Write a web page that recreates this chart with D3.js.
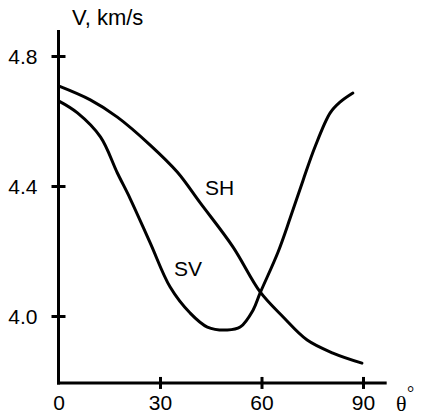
<!DOCTYPE html>
<html>
<head>
<meta charset="utf-8">
<script src="https://cdn.jsdelivr.net/npm/d3@7"></script>
<style>
html,body{margin:0;padding:0;background:#fff;}
svg{display:block;}
text{font-family:"Liberation Sans",Arial,sans-serif;fill:#000;}
</style>
</head>
<body>
<script>
const xTicks = [0, 30, 60, 90];
const yTicks = [4.0, 4.4, 4.8];
const yTickLabels = ["4.0", "4.4", "4.8"];

const thetaSH = [0, 9.4, 17.4, 27.1, 35.1, 41.9, 51.6, 59.6, 66.4, 73.5, 81.1, 89.7];
const vSH     = [4.708, 4.665, 4.612, 4.526, 4.443, 4.348, 4.212, 4.074, 3.997, 3.926, 3.886, 3.855];

const thetaSV = [0, 5.6, 12.4, 17.4, 21.1, 27.1, 33.0, 38.9, 44.0, 49.9, 53.7, 57.5, 59.6, 64.9, 68.5, 72.3, 75.8, 80.3, 83.2, 87.0];
const vSV     = [4.662, 4.625, 4.551, 4.440, 4.363, 4.225, 4.089, 4.009, 3.966, 3.957, 3.966, 4.018, 4.071, 4.197, 4.302, 4.418, 4.520, 4.625, 4.658, 4.686];

const W = 421, H = 416;
const svg = d3.select("body").append("svg").attr("width", W).attr("height", H);

const x = d3.scaleLinear().domain([0, 90]).range([58.5, 363]);
const y = d3.scaleLinear().domain([4.0, 4.8]).range([316, 56]);

const xMax = 97, yMin = 3.794, yMax = 4.88;
const ax = svg.append("g").attr("stroke", "#000").attr("stroke-width", 3).attr("fill", "none");
ax.append("line").attr("x1", x(0)).attr("x2", x(0)).attr("y1", y(yMax)).attr("y2", y(yMin) + 1.5);
ax.append("line").attr("x1", x(0) - 1.5).attr("x2", x(xMax)).attr("y1", y(yMin)).attr("y2", y(yMin));

// y ticks
const yAxis = d3.axisLeft(y).tickValues(yTicks).tickFormat((d, i) => yTickLabels[i]).tickSize(7).tickPadding(14);
const gy = svg.append("g").attr("transform", `translate(${x(0)},0)`).call(yAxis);
gy.select(".domain").remove();
gy.selectAll(".tick line").attr("x1", -7).attr("x2", 7).attr("stroke", "#000").attr("stroke-width", 3);
gy.selectAll(".tick text").attr("font-size", 21).attr("font-family", "Liberation Sans, Arial, sans-serif").attr("fill", "#000").attr("dy", "0.34em");

// x ticks
const xAxis = d3.axisBottom(x).tickValues(xTicks).tickFormat(d3.format("d")).tickSize(6).tickPadding(6);
const gx = svg.append("g").attr("transform", `translate(0,${y(yMin)})`).call(xAxis);
gx.select(".domain").remove();
gx.selectAll(".tick line").attr("y1", -6).attr("y2", 6).attr("stroke", "#000").attr("stroke-width", 3);
gx.selectAll(".tick line").filter(d => d === 0).remove();
gx.selectAll(".tick text").attr("font-size", 21).attr("font-family", "Liberation Sans, Arial, sans-serif").attr("fill", "#000").attr("y", 12).attr("dy", "0.71em");

// curves
const line = d3.line().x(d => x(d[0])).y(d => y(d[1])).curve(d3.curveCatmullRom.alpha(0.5));
const sh = thetaSH.map((t, i) => [t, vSH[i]]);
const sv = thetaSV.map((t, i) => [t, vSV[i]]);
svg.append("path").attr("d", line(sh)).attr("fill", "none").attr("stroke", "#000").attr("stroke-width", 3).attr("stroke-linecap", "round");
svg.append("path").attr("d", line(sv)).attr("fill", "none").attr("stroke", "#000").attr("stroke-width", 3).attr("stroke-linecap", "round");

// labels
svg.append("text").attr("x", 205).attr("y", 195).attr("font-size", 21).text("SH");
svg.append("text").attr("x", 174).attr("y", 276).attr("font-size", 21).text("SV");
svg.append("text").attr("x", 72).attr("y", 25).attr("font-size", 22).text("V, km/s");
svg.append("text").attr("x", 396).attr("y", 411).attr("font-size", 22)
  .style("font-family", "'Liberation Serif', serif").text("θ");
svg.append("text").attr("x", 407).attr("y", 399).attr("font-size", 18)
  .style("font-family", "'Liberation Serif', serif").text("°");
</script>
</body>
</html>
